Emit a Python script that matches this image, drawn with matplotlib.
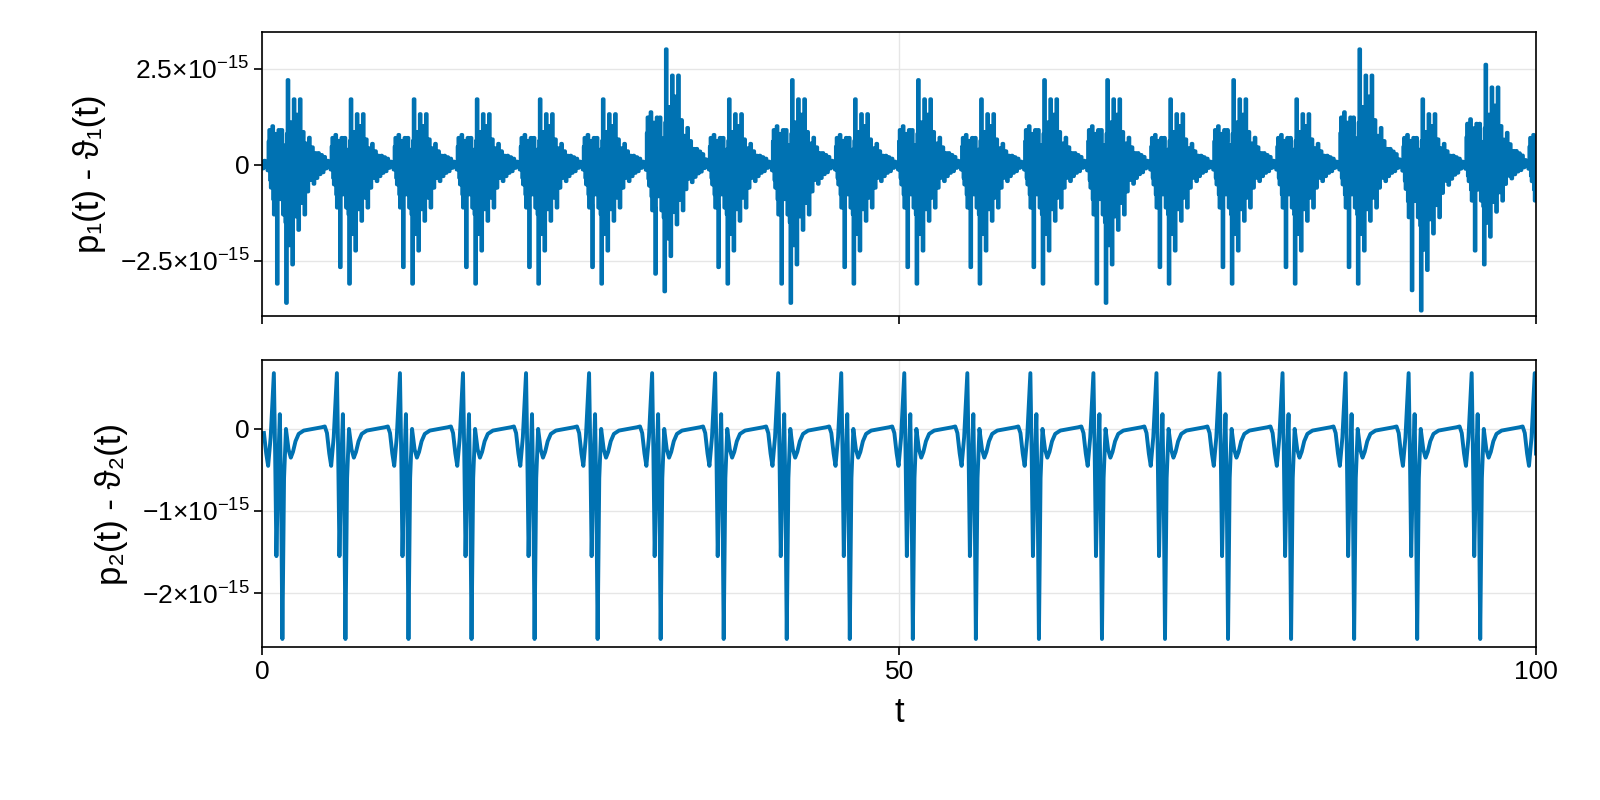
import numpy as np
import matplotlib
matplotlib.use("Agg")
import matplotlib.pyplot as plt
from matplotlib.ticker import FixedLocator

plt.rcParams['font.family'] = ['Liberation Sans', 'DejaVu Sans']
plt.rcParams['mathtext.fontset'] = 'custom'
plt.rcParams['mathtext.rm'] = 'Liberation Sans'
plt.rcParams['mathtext.it'] = 'Liberation Sans'

period = 4.95
first_start = 0.45
# per-cycle template (phase in t units, values in 1e-15)
bot_phase = [0.0, 0.2, 0.45, 0.55, 0.65, 0.8, 0.92, 1.02, 1.12, 1.25, 1.4, 1.6, 1.78, 1.95, 2.15, 2.4, 2.8, 3.5, 4.2, 4.45, 4.62, 4.8]
bot_vals  = [-0.45, -0.1, 0.68, -0.3, -1.55, -0.4, 0.18, -0.8, -2.56, -0.6, 0.0, -0.25, -0.35, -0.28, -0.15, -0.06, -0.02, 0.0, 0.02, 0.03, -0.05, -0.3]

top_phase = [0.0, 0.06, 0.12, 0.18, 0.24, 0.3, 0.36, 0.42, 0.48, 0.54, 0.6, 0.66, 0.72, 0.78, 0.84, 0.9, 0.96, 1.02, 1.08, 1.14, 1.2, 1.26,
             1.32, 1.38, 1.44, 1.5, 1.56, 1.62, 1.68, 1.74, 1.8, 1.86, 1.92, 1.98, 2.04, 2.1, 2.16, 2.22, 2.28, 2.34, 2.4, 2.46, 2.52, 2.58,
             2.64, 2.7, 2.76, 2.82, 2.88, 2.94, 3.0, 3.06, 3.12, 3.18, 3.24, 3.3, 3.36, 3.42, 3.48, 3.54, 3.6, 3.66, 3.72, 3.78, 3.84, 3.9,
             3.96, 4.02, 4.08, 4.14, 4.2, 4.26, 4.32, 4.38, 4.44, 4.5, 4.56, 4.62, 4.68, 4.74, 4.8, 4.85]
top_vals  = [-0.15, 0.6, 0.9, -0.4, -0.6, 0.7, 1.0, -0.9, -1.3, 0.4, 0.8, -1.2, -3.1, 0.3, 0.9, -0.5, -0.9, 0.6, 0.9, -0.8, -1.3, 0.2,
             0.5, -1.5, -3.6, 0.8, 2.2, -0.4, -2.1, 0.6, 1.1, -1.2, -2.6, 0.9, 1.7, -0.6, -1.35, 0.5, 1.3, -0.9, -1.7, 0.8, 1.7, -0.5,
             -1.0, 0.4, 0.85, -0.6, -1.3, 0.3, 0.55, -0.4, -0.7, 0.4, 0.7, -0.2, -0.4, 0.3, 0.45, -0.3, -0.5, 0.2, 0.3, -0.2, -0.35, 0.25,
             0.3, -0.2, -0.25, 0.2, 0.25, -0.15, -0.2, 0.15, 0.2, -0.1, -0.1, 0.08, 0.1, -0.05, -0.05, 0.0]

# per-cycle extreme values (1e-15)
top_peak_hi = [2.2, 1.7, 1.7, 1.7, 1.7, 1.7, 3.0, 1.7, 2.2, 1.7, 2.2, 1.7, 2.2, 2.2, 1.7, 2.2, 1.7, 3.0, 1.7, 2.6, 1.7]
top_peak_lo = [-3.6, -3.1, -3.1, -3.1, -3.1, -3.1, -3.3, -3.1, -3.6, -3.1, -3.1, -3.1, -3.1, -3.6, -3.1, -3.1, -3.1, -3.1, -3.8, -2.6, -2.6]

t1, y1, t2, y2 = [], [], [], []
tp_max = max(top_vals); tp_min = min(top_vals)
for k in range(-1, 21):
    s = first_start + k * period
    kk = max(k, 0)
    for p, v in zip(top_phase, top_vals):
        t = s + p
        if 0 <= t <= 100:
            sc = top_peak_hi[kk] / tp_max if v > 0 else top_peak_lo[kk] / tp_min
            t1.append(t); y1.append(v * sc * 1e-15)
    for p, v in zip(bot_phase, bot_vals):
        t = s + p
        if 0 <= t <= 100:
            t2.append(t); y2.append(v * 1e-15)

color = '#0072b2'
fig = plt.figure(figsize=(16, 8), dpi=100)
ax1 = fig.add_axes([0.164, 0.605, 0.796, 0.355])
ax2 = fig.add_axes([0.164, 0.191, 0.796, 0.359])

ax1.plot(t1, y1, color=color, lw=2.8, drawstyle='steps-mid')
ax2.plot(t2, y2, color=color, lw=2.8)

for ax in (ax1, ax2):
    ax.set_xlim(0, 100)
    ax.xaxis.set_major_locator(FixedLocator([0, 50, 100]))
    ax.grid(True, color='#e6e6e6', lw=1)
    ax.set_axisbelow(True)
    ax.tick_params(labelsize=19, length=6, width=1.2, direction='out')
    for sp in ax.spines.values():
        sp.set_linewidth(1.2)

ax1.set_ylim(-3.94e-15, 3.45e-15)
ax1.set_yticks([-2.5e-15, 0, 2.5e-15])
ax1.set_yticklabels([r'$\mathregular{-2.5{\times}10^{-15}}$', '0', r'$\mathregular{2.5{\times}10^{-15}}$'])
ax1.set_xticklabels([])
ax1.set_ylabel('p₁(t) - ϑ₁(t)', fontsize=25, labelpad=10)

ax2.set_ylim(-2.66e-15, 0.84e-15)
ax2.set_yticks([-2e-15, -1e-15, 0])
ax2.set_yticklabels([r'$\mathregular{-2{\times}10^{-15}}$', r'$\mathregular{-1{\times}10^{-15}}$', '0'])
ax2.set_xticklabels(['0', '50', '100'])
ax2.set_xlabel('t', fontsize=25, labelpad=8)
ax2.set_ylabel('p₂(t) - ϑ₂(t)', fontsize=25, labelpad=10)

fig.savefig('out.png', dpi=100)
